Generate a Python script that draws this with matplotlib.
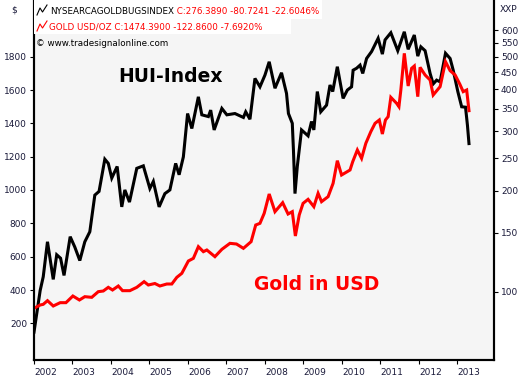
import matplotlib
matplotlib.use("Agg")
import matplotlib.pyplot as plt
from matplotlib.lines import Line2D
from matplotlib.patches import Rectangle
from matplotlib.text import Annotation
from matplotlib.ticker import NullLocator
import matplotlib.transforms as mtransforms

# HUI index (right log axis)
hui_t = [2002.00, 2002.16, 2002.24, 2002.35, 2002.50, 2002.59, 2002.69, 2002.78, 2002.94, 2003.06,
         2003.19, 2003.32, 2003.45, 2003.58, 2003.69, 2003.84, 2003.93, 2004.02, 2004.16, 2004.28,
         2004.36, 2004.48, 2004.67, 2004.84, 2005.01, 2005.10, 2005.25, 2005.40, 2005.53, 2005.68,
         2005.77, 2005.88, 2005.99, 2006.10, 2006.27, 2006.36, 2006.53, 2006.59, 2006.68, 2006.88,
         2007.01, 2007.22, 2007.44, 2007.50, 2007.61, 2007.74, 2007.87, 2008.00, 2008.11, 2008.26,
         2008.43, 2008.56, 2008.61, 2008.71, 2008.74, 2008.78, 2008.84, 2008.95, 2009.12, 2009.21,
         2009.27, 2009.36, 2009.45, 2009.60, 2009.69, 2009.76, 2009.88, 2010.03, 2010.14, 2010.25,
         2010.29, 2010.38, 2010.47, 2010.54, 2010.64, 2010.77, 2010.94, 2011.05, 2011.12, 2011.27,
         2011.45, 2011.62, 2011.72, 2011.88, 2011.97, 2012.05, 2012.16, 2012.29, 2012.37, 2012.46,
         2012.55, 2012.69, 2012.81, 2012.89, 2013.01, 2013.11, 2013.21, 2013.26, 2013.30]
hui = [76, 101, 111, 141, 109, 129, 126, 112, 146, 136,
       124, 141, 151, 194, 199, 248, 241, 218, 236, 179,
       201, 185, 233, 237, 203, 213, 179, 196, 201, 241,
       223, 252, 339, 306, 380, 336, 332, 347, 303, 351,
       336, 339, 330, 343, 326, 431, 407, 441, 483, 403,
       448, 389, 339, 317, 264, 196, 236, 303, 291, 321,
       303, 394, 343, 359, 412, 394, 467, 376, 398, 407,
       456, 462, 472, 446, 494, 518, 567, 509, 561, 589,
       521, 593, 526, 580, 502, 535, 521, 446, 415, 426,
       421, 512, 494, 456, 394, 355, 354, 313, 276]

# gold in USD (left axis)
gold_t = [2002.00, 2002.16, 2002.24, 2002.35, 2002.50, 2002.68, 2002.83, 2003.01, 2003.18, 2003.32,
          2003.50, 2003.67, 2003.80, 2003.93, 2004.04, 2004.19, 2004.30, 2004.49, 2004.67, 2004.86,
          2004.97, 2005.14, 2005.27, 2005.45, 2005.58, 2005.71, 2005.84, 2006.01, 2006.14, 2006.27,
          2006.40, 2006.49, 2006.70, 2006.88, 2007.09, 2007.26, 2007.44, 2007.64, 2007.76, 2007.87,
          2007.98, 2008.11, 2008.26, 2008.46, 2008.60, 2008.71, 2008.79, 2008.89, 2008.99, 2009.12,
          2009.27, 2009.38, 2009.47, 2009.64, 2009.77, 2009.88, 2009.99, 2010.21, 2010.28, 2010.40,
          2010.51, 2010.62, 2010.75, 2010.86, 2010.97, 2011.05, 2011.13, 2011.20, 2011.27, 2011.42,
          2011.48, 2011.53, 2011.62, 2011.72, 2011.81, 2011.88, 2011.97, 2012.03, 2012.16, 2012.29,
          2012.37, 2012.55, 2012.69, 2012.81, 2012.94, 2013.06, 2013.15, 2013.24, 2013.30]
gold = [290, 310, 314, 336, 304, 324, 324, 364, 340, 360,
        356, 390, 394, 416, 400, 424, 396, 396, 416, 450,
        430, 439, 424, 436, 436, 476, 500, 574, 590, 660,
        630, 640, 600, 644, 680, 676, 650, 690, 790, 800,
        860, 976, 870, 924, 856, 870, 724, 850, 920, 944,
        900, 980, 930, 960, 1040, 1176, 1090, 1120, 1170, 1240,
        1190, 1280, 1350, 1400, 1420, 1336, 1420, 1440, 1556, 1520,
        1500, 1600, 1820, 1624, 1730, 1744, 1560, 1736, 1690, 1660,
        1570, 1620, 1770, 1716, 1690, 1636, 1590, 1600, 1476]

years = list(range(2002, 2014))
gold_ticks = [200, 400, 600, 800, 1000, 1200, 1400, 1600, 1800]
hui_ticks = [100, 150, 200, 250, 300, 350, 400, 450, 500, 550, 600]

W, H = 525, 380
def fx(px):
    return px / W
def fy(py):
    return 1 - py / H

fs = 6.5
hfs = 6.3  # header text
fig = plt.figure(figsize=(5.25, 3.8), dpi=100)
fig.patch.set_facecolor("white")
ax = fig.add_axes([fx(34), 20 / H, 460 / W, 360 / H])
ax2 = ax.twinx()
ax.set_zorder(2)
ax.patch.set_visible(False)
ax2.set_zorder(1)
ax2.patch.set_visible(True)
ax2.set_facecolor("#f5f5f5")

ax2.plot(hui_t, hui, color="black", lw=2.2, solid_joinstyle="miter")
ax.plot(gold_t, gold, color="#ff0000", lw=2.2, solid_joinstyle="miter")

ax.set_xlim(2002.0, 2013.95)
ax.set_ylim(-20, 2140)
ax2.set_yscale("log")
ax2.set_ylim(62.8, 737)

ax.set_yticks(gold_ticks)
ax.set_yticklabels([str(v) for v in gold_ticks])
ax2.set_yticks(hui_ticks)
ax2.set_yticklabels([str(v) for v in hui_ticks])
ax2.yaxis.set_minor_locator(NullLocator())

ax.set_xticks(years)
ax.set_xticklabels([str(y) for y in years], ha="left")
shift = mtransforms.ScaledTranslation(2 / 100, 0, fig.dpi_scale_trans)
for lab in ax.get_xticklabels():
    lab.set_transform(lab.get_transform() + shift)

for a in (ax, ax2):
    for s in a.spines.values():
        s.set_linewidth(1.5)
        s.set_color("black")
    a.spines["top"].set_visible(False)
    a.tick_params(labelsize=fs, labelcolor="#1a1a3a", width=0.8, length=3, pad=2)
ax.tick_params(axis="x", length=3, pad=3)

# header box
fig.add_artist(Rectangle((fx(34), fy(18.5)), fx(322) - fx(34), 18.5 / H,
                         transform=fig.transFigure, facecolor="white", edgecolor="none", zorder=4))
fig.add_artist(Rectangle((fx(34), fy(34)), fx(291) - fx(34), 15.5 / H,
                         transform=fig.transFigure, facecolor="white", edgecolor="none", zorder=4))
fig.add_artist(Line2D([fx(37), fx(40), fx(42.5), fx(47)], [fy(15), fy(8), fy(12), fy(5)],
                      transform=fig.transFigure, color="black", lw=0.8, zorder=5))
fig.add_artist(Line2D([fx(37), fx(40), fx(42.5), fx(47)], [fy(31), fy(24), fy(28), fy(21)],
                      transform=fig.transFigure, color="#ff0000", lw=0.8, zorder=5))

t1 = fig.text(fx(50), fy(16), "NYSEARCAGOLDBUGSINDEX", fontsize=hfs, color="black",
              va="bottom", ha="left", zorder=5)
fig.add_artist(Annotation(" C:276.3890 -80.7241 -22.6046%", xy=(1, 0), xycoords=t1,
                          fontsize=hfs, color="#ff0000", va="bottom", ha="left", zorder=5))
fig.text(fx(49), fy(32), "GOLD USD/OZ C:1474.3900 -122.8600 -7.6920%", fontsize=hfs,
         color="#ff0000", va="bottom", ha="left", zorder=5)
fig.text(fx(36), fy(47.5), "\u00a9 www.tradesignalonline.com", fontsize=hfs, color="black",
         va="bottom", ha="left", zorder=5)

fig.text(fx(14), fy(10), "$", fontsize=fs, color="#1a1a3a", ha="center", va="center")
fig.text(fx(509), fy(10), "XXP", fontsize=fs, color="#1a1a3a", ha="center", va="center")

fig.text(fx(170), fy(76), "HUI-Index", fontsize=13.5, fontweight="bold", color="black",
         ha="center", va="center", zorder=5)
fig.text(fx(317), fy(285), "Gold in USD", fontsize=13.5, fontweight="bold", color="#ff0000",
         ha="center", va="center", zorder=5)

fig.savefig("out.png", dpi=100)
